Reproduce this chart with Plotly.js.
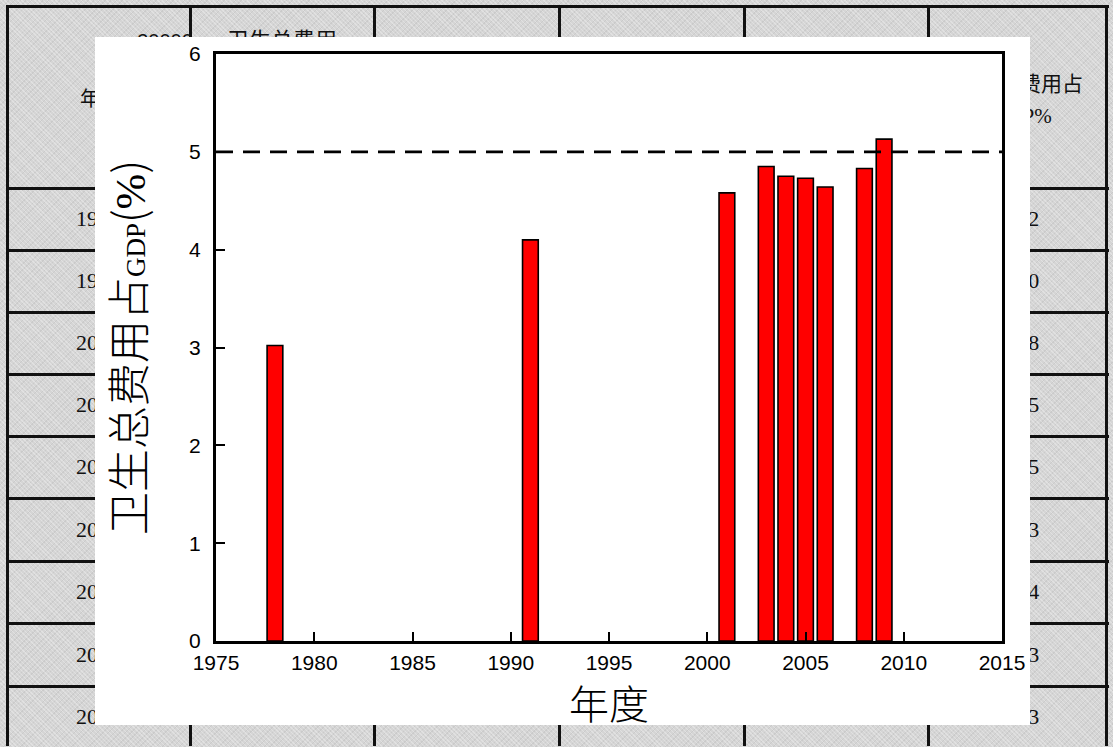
<!DOCTYPE html>
<html>
<head>
<meta charset="utf-8">
<script src="https://cdn.plot.ly/plotly-3.0.1.min.js"></script>
<style>
html,body{margin:0;padding:0;width:1113px;height:747px;overflow:hidden;}
#bg{position:absolute;left:0;top:0;width:1113px;height:747px;
 background-color:#d5d5d5;
 background-image:repeating-linear-gradient(45deg,rgba(255,255,255,0.28) 0px,rgba(255,255,255,0.28) 1px,rgba(0,0,0,0) 1px,rgba(0,0,0,0) 3px),
 repeating-linear-gradient(-45deg,rgba(0,0,0,0.05) 0px,rgba(0,0,0,0.05) 1px,rgba(0,0,0,0) 1px,rgba(0,0,0,0) 4px);}
.hl{position:absolute;height:3px;background:#111;}
.vl{position:absolute;width:3px;background:#111;}
.tx{position:absolute;font-family:"Liberation Serif","Noto Sans CJK SC",serif;font-size:22px;color:#111;white-space:nowrap;transform:translate(-50%,-50%);}
#chart{position:absolute;left:95px;top:37px;width:935px;height:688px;background:#fff;}
</style>
</head>
<body>
<div id="bg"></div>
<div id="chart"></div>
<script>
// ---- data ----
var years  = [1978, 1991, 2001, 2003, 2004, 2005, 2006, 2008, 2009];
var shares = [3.02, 4.10, 4.58, 4.85, 4.75, 4.73, 4.64, 4.83, 5.13];
var xTicks = [1975, 1980, 1985, 1990, 1995, 2000, 2005, 2010, 2015];
var yTicks = [0, 1, 2, 3, 4, 5, 6];
var refLine = 5;
var xTitle = "年度";
var headerYear = "年份";
var headerTotal = "卫生总费用";
var headerShare1 = "卫生总费用占";
var headerShare2 = "GDP%";
var behindLabel = "30000";

// ---- background table (decoration behind the chart) ----
var bg = document.getElementById('bg');
var colX = [7, 190, 374, 559, 744, 928, 1106];
var rowY = [6, 188, 250, 312, 374, 436, 498, 561, 623, 686];
function add(cls, style, text){
  var d = document.createElement('div'); d.className = cls;
  for (var k in style) d.style[k] = style[k];
  if (text !== undefined) d.textContent = text;
  bg.appendChild(d);
}
rowY.forEach(function(y){ add('hl', {left: colX[0]+'px', top: (y-1)+'px', width: (colX[colX.length-1]-colX[0]+3)+'px'}); });
colX.forEach(function(x){ add('vl', {left: (x-1)+'px', top: rowY[0]-1+'px', height: (747-rowY[0])+'px'}); });
add('tx', {left: '100px', top: '97px', fontSize:'20px'}, headerYear);
add('tx', {left: '282px', top: '38px'}, headerTotal);
add('tx', {left: '1020px', top: '82px', fontSize:'21px'}, headerShare1);
add('tx', {left: '1022px', top: '116px', fontSize:'21px'}, headerShare2);
add('tx', {left: '165px', top: '41px', fontFamily:'"Liberation Sans",sans-serif', fontSize:'20px', lineHeight:'12px'}, behindLabel);
years.forEach(function(yr, i){
  var cy = (rowY[i+1] + (i+2 < rowY.length ? rowY[i+2] : 748)) / 2;
  add('tx', {left: '98px', top: cy+'px'}, String(yr));
  add('tx', {left: '1020px', top: cy+'px'}, shares[i].toFixed(2));
});

// ---- chart ----
var trace = {
  type: 'bar', x: years, y: shares, width: 0.8,
  marker: {color: '#ff0000', line: {color: '#000', width: 1.6}},
  hoverinfo: 'x+y'
};
var axisCommon = {
  showgrid: false, zeroline: false, showline: true, linecolor: '#000', linewidth: 3,
  mirror: true, ticks: 'inside', ticklen: 9, tickwidth: 2, tickcolor: '#000',
  tickfont: {family: '"Liberation Sans", Arial, sans-serif', size: 21, color: '#000'}
};
var layout = {
  width: 935, height: 688,
  margin: {l: 121, r: 28, t: 17, b: 84},
  paper_bgcolor: '#fff', plot_bgcolor: '#fff',
  showlegend: false,
  bargap: 0,
  xaxis: Object.assign({}, axisCommon, {
    range: [1975, 2015], tickvals: xTicks, ticktext: xTicks.map(String),
    ticklabelstandoff: 1
  }),
  yaxis: Object.assign({}, axisCommon, {
    range: [0, 6], tickvals: yTicks, ticktext: yTicks.map(String),
    ticklabelstandoff: 8,
    title: {text: '卫生总费用占<span style="font-family:Liberation Serif;font-size:27px">GDP</span>(<span style="font-family:Liberation Serif">%</span>)',
            font: {family: '"Noto Sans CJK SC", sans-serif', size: 43, color: '#000', weight: 300}, standoff: 48}
  }),
  annotations: [{
    text: xTitle, xref: 'paper', yref: 'paper', x: 0.5, y: -0.104,
    xanchor: 'center', yanchor: 'middle', showarrow: false,
    font: {family: '"Noto Sans CJK SC", sans-serif', size: 40, color: '#000', weight: 300}
  }],
  shapes: [{type: 'line', xref: 'paper', x0: 0, x1: 1, yref: 'y', y0: refLine, y1: refLine,
            line: {color: '#000', width: 2.6, dash: '17px,10px'}}]
};
Plotly.newPlot('chart', [trace], layout, {displayModeBar: false, staticPlot: true});
</script>
</body>
</html>
